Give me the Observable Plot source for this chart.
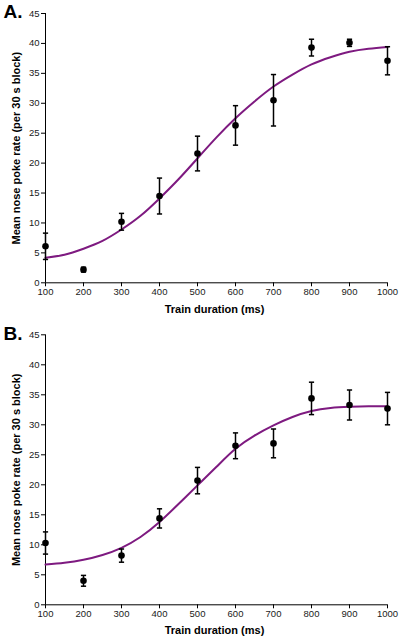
<!DOCTYPE html>
<html><head><meta charset="utf-8">
<script src="https://cdn.jsdelivr.net/npm/d3@7"></script>
<script src="https://cdn.jsdelivr.net/npm/@observablehq/plot@0.6"></script>
<style>body{margin:0;background:#fff;} svg{display:block;}</style>
</head><body><div id="chart"></div>
<script>
const durations = [100, 200, 300, 400, 500, 600, 700, 800, 900, 1000];
const meanA = [6.1, 2.2, 10.2, 14.5, 21.6, 26.3, 30.5, 39.3, 40.1, 37.1];
const semA  = [2.2, 0.4, 1.4, 3.0, 2.9, 3.3, 4.3, 1.4, 0.6, 2.35];
const meanB = [10.3, 4.0, 8.2, 14.4, 20.7, 26.5, 26.9, 34.4, 33.3, 32.7];
const semB  = [1.85, 0.9, 1.1, 1.6, 2.2, 2.15, 2.4, 2.7, 2.5, 2.7];
const fitX = [100,150,200,250,300,350,400,450,500,550,600,650,700,750,800,850,900,950,1000];
const fitA = [4.2,4.7,5.7,7.0,8.9,11.2,14.1,17.3,20.8,24.3,27.5,30.3,32.8,34.8,36.5,37.7,38.6,39.1,39.4];
const fitB = [6.7,7.0,7.5,8.3,9.5,11.3,13.8,16.8,19.9,23.0,26.0,28.2,29.9,31.3,32.3,32.8,33.0,33.1,33.1];
const yTicks = [0,5,10,15,20,25,30,35,40,45];
const xTicks = [100,200,300,400,500,600,700,800,900,1000];
const xTitle = "Train duration (ms)";
const yTitle = "Mean nose poke rate (per 30 s block)";
const panelLetters = ["A.", "B."];

const FONT = "'Liberation Sans', Arial, Helvetica, sans-serif";
const capSymbol = {
  draw(ctx, size) {
    const w = Math.sqrt(size / Math.PI);
    ctx.moveTo(-w, 0); ctx.lineTo(w, 0);
  }
};

function panel(letter, mean, sem, fit, o) {
  const pts = durations.map((d, i) => ({x: d, y: mean[i], lo: mean[i] - sem[i], hi: mean[i] + sem[i]}));
  const curve = fitX.map((d, i) => ({x: d, y: fit[i]}));
  return Plot.plot({
    width: 400,
    height: o.height,
    marginLeft: 45,
    marginRight: 13,
    marginTop: o.top,
    marginBottom: o.bottom,
    style: {fontFamily: FONT, fontSize: "9px", color: "#000", background: "#fff"},
    x: {domain: [100, 1000]},
    y: {domain: [0, 45]},
    marks: [
      Plot.axisY(yTicks, {tickSize: 4, tickPadding: 2, label: null, fontSize: 9.5, stroke: "#000", fill: "#1a1a1a", tickFormat: d => String(d)}),
      Plot.axisX(xTicks, {tickSize: 4, tickPadding: 1, label: null, fontSize: 9.5, stroke: "#000", fill: "#1a1a1a", tickFormat: d => String(d)}),
      Plot.ruleX([100], {stroke: "#000", strokeWidth: 1}),
      Plot.ruleY([0], {stroke: "#000", strokeWidth: 1}),
      Plot.line(curve, {x: "x", y: "y", curve: "natural", stroke: "#7e1a80", strokeWidth: 2}),
      Plot.link(pts, {x1: "x", x2: "x", y1: "lo", y2: "hi", stroke: "#000", strokeWidth: 1.5}),
      Plot.dot(pts, {x: "x", y: "lo", symbol: capSymbol, r: 2.6, stroke: "#000", strokeWidth: 1.5, fill: "none"}),
      Plot.dot(pts, {x: "x", y: "hi", symbol: capSymbol, r: 2.6, stroke: "#000", strokeWidth: 1.5, fill: "none"}),
      Plot.dot(pts, {x: "x", y: "y", r: 3.3, fill: "#000", stroke: "none"}),
      Plot.text([letter], {frameAnchor: "top-left", textAnchor: "start", lineAnchor: "bottom", dx: -42, dy: o.letterDy, fontSize: 19, fontWeight: "bold", fill: "#000"}),
      Plot.text([yTitle], {frameAnchor: "left", rotate: -90, textAnchor: "middle", lineAnchor: "middle", dx: -29, fontSize: 11, fontWeight: "bold", fill: "#000"}),
      Plot.text([xTitle], {frameAnchor: "bottom", textAnchor: "middle", lineAnchor: "bottom", dx: -2, dy: o.xDy, fontSize: 11, fontWeight: "bold", fill: "#000"})
    ]
  });
}

const root = document.getElementById("chart");
root.appendChild(panel(panelLetters[0], meanA, semA, fitA, {height: 320, top: 13, bottom: 37.7, letterDy: 4.3, xDy: 30.5}));
root.appendChild(panel(panelLetters[1], meanB, semB, fitB, {height: 319, top: 14.3, bottom: 34.7, letterDy: 5, xDy: 29.2}));
</script>
</body></html>
